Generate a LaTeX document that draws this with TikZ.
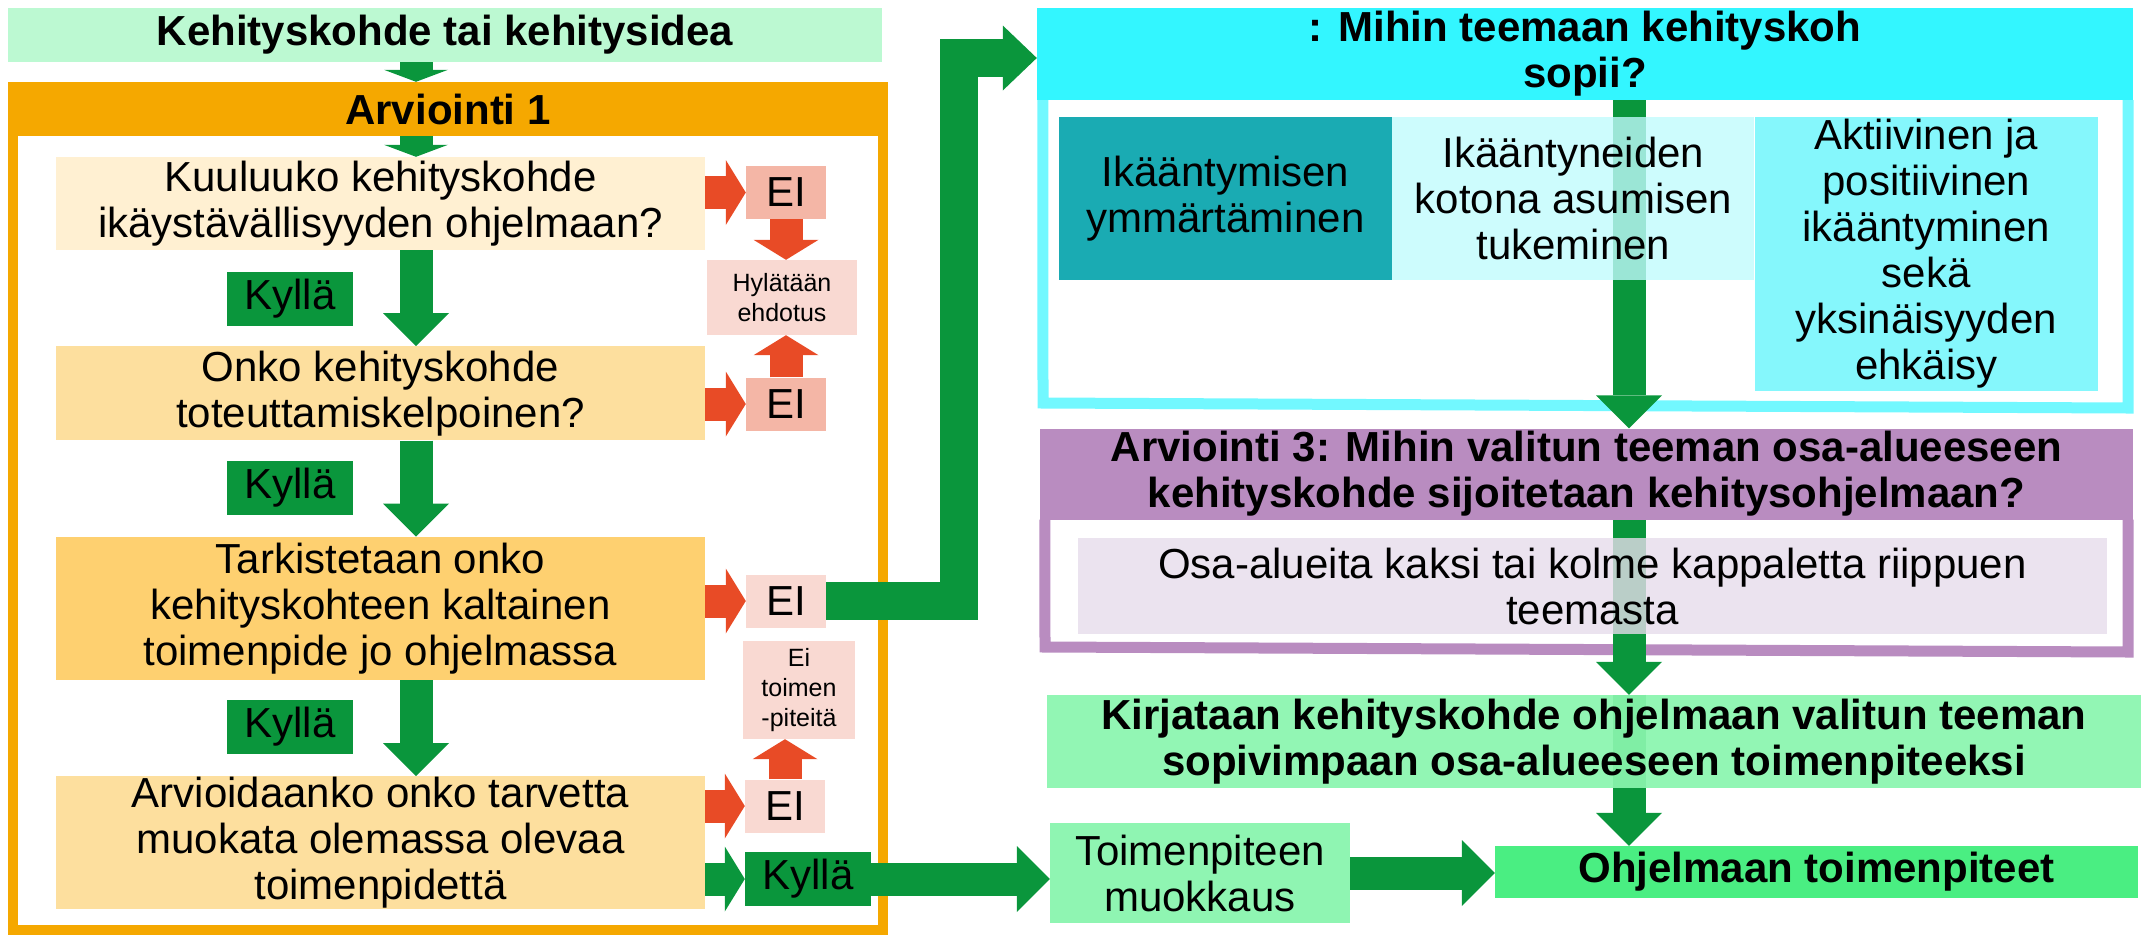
\documentclass[tikz,border=0pt]{standalone}
\usepackage{fontspec}
\setmainfont{Liberation Sans}
\usepackage{tikz}
\usetikzlibrary{arrows.meta,positioning,fit}
\definecolor{ideagreen}{RGB}{188,249,210}
\definecolor{arvorange}{RGB}{245,168,0}
\definecolor{qlight}{RGB}{255,240,210}
\definecolor{qmid}{RGB}{253,223,158}
\definecolor{qdark}{RGB}{254,208,112}
\definecolor{kyllagreen}{RGB}{10,150,60}
\definecolor{arrowgreen}{RGB}{10,150,60}
\definecolor{arrowred}{RGB}{232,75,38}
\definecolor{eisalmon}{RGB}{244,182,166}
\definecolor{eipink}{RGB}{249,217,210}
\definecolor{headcyan}{RGB}{51,246,255}
\definecolor{framecyan}{RGB}{114,248,255}
\definecolor{themeA}{RGB}{26,171,179}
\definecolor{themeB}{RGB}{192,251,253}
\definecolor{themeC}{RGB}{133,247,252}
\definecolor{arvpurple}{RGB}{185,140,192}
\definecolor{osalilac}{RGB}{230,220,235}
\definecolor{kirgreen}{RGB}{138,245,174}
\definecolor{muokgreen}{RGB}{143,245,178}
\definecolor{ohjgreen}{RGB}{74,238,130}

\pgfdeclarelayer{back}
\pgfdeclarelayer{mid}
\pgfsetlayers{back,mid,main}

\begin{document}
\begin{tikzpicture}[x=1pt, y=1pt, node distance=96pt]
    \tikzstyle{box} = [rectangle, inner sep=0pt, align=center, text=black, font=\fontsize{42}{46}\selectfont]
    \tikzstyle{headbox} = [box, font=\fontsize{42}{46}\selectfont\bfseries]
    \tikzstyle{question} = [box, minimum width=649pt]
    \tikzstyle{kylla} = [box, fill=kyllagreen, minimum width=126pt, minimum height=54pt]
    \tikzstyle{eibox} = [box, minimum width=80pt, minimum height=53pt]
    \tikzstyle{note} = [box, fill=eipink, font=\fontsize{25}{30}\selectfont]
    \tikzstyle{theme} = [box, minimum height=163pt]
    \tikzstyle{garrow} = [draw=arrowgreen, line width=33pt, -{Triangle[length=33pt,width=66pt,line width=0pt]}]
    \tikzstyle{shorttip} = [-{Triangle[length=12pt,width=64pt,line width=0pt]}]
    \tikzstyle{midtip} = [-{Triangle[length=20pt,width=65pt,line width=0pt]}]
    \tikzstyle{rarrow} = [draw=arrowred, line width=33pt, -{Triangle[length=20pt,width=65pt,line width=0pt]}]
    \tikzstyle{frameline} = [line width=11pt, line join=miter]

    \useasboundingbox (0,0) rectangle (2143,-938);

    % Idea and Arviointi 1
    \node[headbox, fill=ideagreen, minimum width=874pt, minimum height=54pt] (idea) at (445,-35) {Kehityskohde tai kehitysidea};
    \node[headbox, fill=arvorange, minimum width=880pt, minimum height=54pt] (arv1) at (448,-109) {Arviointi 1};
    \node[question, fill=qlight, minimum height=93pt] (kuulu) at (380.5,-203.5) {Kuuluuko kehityskohde\\ikäystävällisyyden ohjelmaan?};
    \node[question, fill=qmid, minimum height=94pt, below=of kuulu] (onko) {Onko kehityskohde\\toteuttamiskelpoinen?};
    \node[question, fill=qdark, minimum height=143pt, below=of onko] (tark) {Tarkistetaan onko\\kehityskohteen kaltainen\\toimenpide jo ohjelmassa};
    \node[question, fill=qmid, minimum height=133pt, below=of tark] (arvioi) {Arvioidaanko onko tarvetta\\muokata olemassa olevaa\\toimenpidettä};

    % Kyllä
    \node[kylla] (kyl1) at (290,-298.5) {Kyllä};
    \node[kylla] (kyl2) at (290,-488) {Kyllä};
    \node[kylla] (kyl3) at (290,-727) {Kyllä};
    \node[kylla] (kyl4) at (808,-879) {Kyllä};

    % Ei
    \node[eibox, fill=eisalmon] (ei1) at (786,-192.5) {EI};
    \node[eibox, fill=eisalmon] (ei2) at (786,-404) {EI};
    \node[eibox, fill=eipink] (ei3) at (786,-601) {EI};
    \node[eibox, fill=eipink] (ei4) at (785,-806) {EI};
    \node[note, minimum width=150pt, minimum height=75pt] (hylk) at (782,-297.5) {Hylätään\\ehdotus};
    \node[note, minimum width=112pt, minimum height=98pt] (eitoim) at (799,-690) {Ei\\toimen\\-piteitä};

    % Teemat
    \node[headbox, fill=headcyan, minimum width=1096pt, minimum height=92pt] (mihin) at (1585,-54) {: Mihin teemaan kehityskoh\\sopii?};
    \node[theme, fill=themeA, minimum width=333pt] (teema1) at (1225.5,-198.5) {Ikääntymisen\\ymmärtäminen};
    \node[theme, fill=themeB, fill opacity=0.8, text opacity=1, minimum width=362pt, right=0pt of teema1] (teema2) {Ikääntyneiden\\kotona asumisen\\tukeminen};
    \node[theme, fill=themeC, minimum width=343pt, minimum height=274pt, anchor=north west] (teema3) at (teema2.north east) {Aktiivinen ja\\positiivinen\\ikääntyminen\\sekä\\yksinäisyyden\\ehkäisy};

    % Arviointi 3 and result
    \node[headbox, fill=arvpurple, minimum width=1093pt, minimum height=91pt] (arv3) at (1586.5,-474) {Arviointi 3: Mihin valitun teeman osa-alueeseen\\kehityskohde sijoitetaan kehitysohjelmaan?};
    \node[box, fill=osalilac, fill opacity=0.8, text opacity=1, minimum width=1029pt, minimum height=96pt] (osa) at (1592.5,-586) {Osa-alueita kaksi tai kolme kappaletta riippuen\\teemasta};
    \node[headbox, fill=kirgreen, fill opacity=0.93, text opacity=1, minimum width=1094pt, minimum height=93pt] (kirjaus) at (1594,-741.5) {Kirjataan kehityskohde ohjelmaan valitun teeman\\sopivimpaan osa-alueeseen toimenpiteeksi};
    \node[box, fill=muokgreen, minimum width=300pt, minimum height=100pt] (muok) at (1200,-873) {Toimenpiteen\\muokkaus};
    \node[headbox, fill=ohjgreen, minimum width=643pt, minimum height=52pt] (ohj) at (1816.5,-872) {Ohjelmaan toimenpiteet};

    \coordinate (akseli) at (416,0);
    \coordinate (oikea) at (1629,0);
    \coordinate (kaanne) at (959,0);
    \coordinate (tulo) at ([yshift=-4pt]mihin.west);
    \coordinate (arv1loppu) at (448,-935);

    % Frames
    \begin{pgfonlayer}{back}
        \node[draw=arvorange, line width=10pt, inner sep=-5pt, fit=(arv1)(arv1loppu)] (kehys1) {};
        \draw[frameline, draw=framecyan] ([xshift=6pt]mihin.south west) -- (1043,-403) -- (2128,-408) -- ([xshift=-5pt]mihin.south east);
        \draw[frameline, draw=arvpurple] ([xshift=5pt]arv3.south west) -- (1045,-647) -- (2128,-652) -- ([xshift=-5pt]arv3.south east);
    \end{pgfonlayer}

    % Arrows
    \begin{pgfonlayer}{mid}
        \draw[garrow, shorttip] (idea.south -| akseli) -- (arv1.north -| akseli);
        \draw[garrow, shorttip] (arv1.south -| akseli) -- (kuulu.north -| akseli);
        \draw[garrow] (kuulu.south -| akseli) -- (onko.north -| akseli);
        \draw[garrow] (onko.south -| akseli) -- (tark.north -| akseli);
        \draw[garrow] (tark.south -| akseli) -- (arvioi.north -| akseli);

        \draw[rarrow] (kuulu.east |- ei1) -- (ei1.west);
        \draw[rarrow] (onko.east |- ei2) -- (ei2.west);
        \draw[rarrow] (tark.east |- ei3) -- (ei3.west);
        \draw[rarrow] (arvioi.east |- ei4) -- (ei4.west);
        \draw[rarrow] (ei1.south) -- (ei1.south |- hylk.north);
        \draw[rarrow] (ei2.north) -- (ei2.north |- hylk.south);
        \draw[rarrow] (ei4.north) -- (ei4.north |- eitoim.south);

        \draw[draw=arrowgreen, line width=38pt, line join=miter, -{Triangle[length=34pt,width=65pt,line width=0pt]}] (ei3.east) -- (ei3.east -| kaanne) -- (kaanne |- tulo) -- (tulo);
        \draw[garrow, midtip] (arvioi.east |- kyl4) -- (kyl4.west);
        \draw[garrow] (kyl4.east) -- (kyl4.east -| muok.west);
        \draw[garrow] (muok.east) -- (muok.east -| ohj.west);

        \draw[garrow] (mihin.south -| oikea) -- (arv3.north -| oikea);
        \draw[garrow] (arv3.south -| oikea) -- (kirjaus.north -| oikea);
        \draw[garrow] (kirjaus.north -| oikea) -- (ohj.north -| oikea);
    \end{pgfonlayer}
\end{tikzpicture}
\end{document}
